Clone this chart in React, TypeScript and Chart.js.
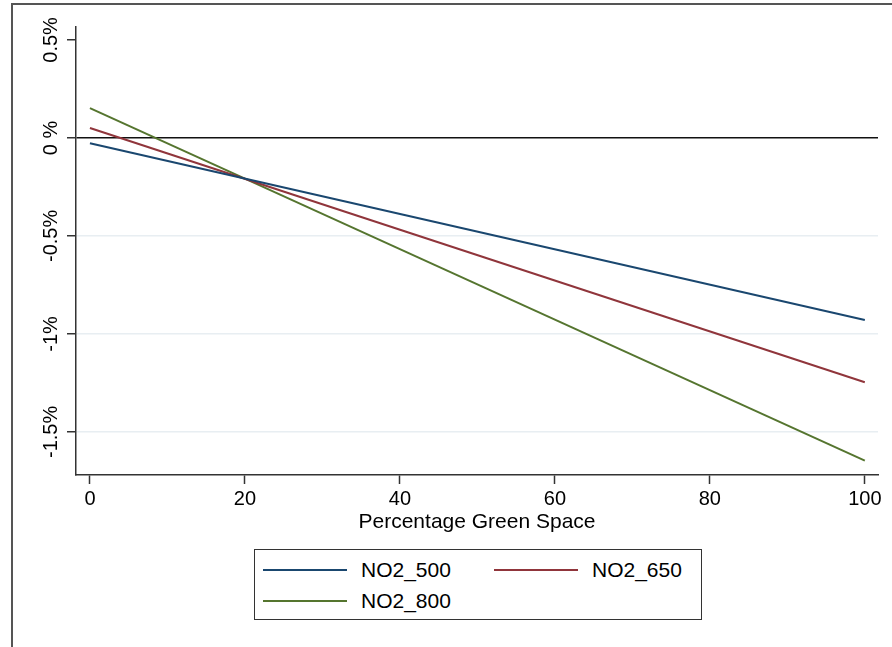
import React, { useEffect, useRef } from "react";
import { Chart, registerables } from "chart.js";

Chart.register(...registerables);

// ---- data ----
const xValues = [0, 100];
const seriesNames = ["NO2_500", "NO2_650", "NO2_800"];
const no2_500 = [-0.027, -0.929];
const no2_650 = [0.051, -1.247];
const no2_800 = [0.152, -1.647];
const seriesColors = ["#1a476f", "#90353b", "#55752f"];

const xTickValues = [0, 20, 40, 60, 80, 100];
const yTickValues = [-1.5, -1, -0.5, 0, 0.5];
const yTickLabels = ["-1.5%", "-1%", "-0.5%", "0 %", "0.5%"];
const xTitle = "Percentage Green Space";

const FONT = "'Liberation Sans', Arial, Helvetica, sans-serif";

export default function App() {
  const canvasRef = useRef<HTMLCanvasElement | null>(null);

  useEffect(() => {
    const canvas = canvasRef.current;
    if (!canvas) return;
    const seriesValues = [no2_500, no2_650, no2_800];
    const chart = new Chart(canvas, {
      type: "line",
      data: {
        datasets: seriesNames.map((name, i) => ({
          label: name,
          data: xValues.map((x, j) => ({ x, y: seriesValues[i][j] })),
          borderColor: seriesColors[i],
          backgroundColor: seriesColors[i],
          borderWidth: 2,
          pointRadius: 0,
          tension: 0,
          fill: false,
        })),
      },
      options: {
        animation: false,
        responsive: false,
        devicePixelRatio: 1,
        layout: { padding: { top: 27, right: 14, left: 0, bottom: 0 } },
        plugins: {
          legend: { display: false },
          tooltip: { enabled: false },
        },
        scales: {
          x: {
            type: "linear",
            min: -1.8,
            max: 101.7,
            afterBuildTicks: (scale: any) => {
              scale.ticks = xTickValues.map((v) => ({ value: v }));
            },
            afterFit: (scale: any) => {
              scale.height = 172;
            },
            border: { color: "#333", width: 1.5 },
            grid: {
              drawOnChartArea: false,
              tickLength: 9,
              tickColor: "#333",
              tickWidth: 1.5,
            },
            ticks: {
              color: "#000",
              font: { family: FONT, size: 20 },
              padding: 3,
              maxRotation: 0,
              autoSkip: false,
              callback: (v: any) => String(v),
            },
            title: {
              display: true,
              text: xTitle,
              color: "#000",
              font: { family: FONT, size: 21 },
              padding: { top: 0, bottom: 112 },
            },
          },
          y: {
            type: "linear",
            min: -1.72,
            max: 0.566,
            afterBuildTicks: (scale: any) => {
              scale.ticks = yTickValues.map((v) => ({ value: v }));
            },
            afterFit: (scale: any) => {
              scale.width = 76;
            },
            border: { color: "#333", width: 1.5 },
            grid: {
              color: (ctx: any) =>
                ctx.tick && ctx.tick.value === 0
                  ? "#111"
                  : ctx.tick && ctx.tick.value === 0.5
                  ? "rgba(0,0,0,0)"
                  : "#e8eef2",
              lineWidth: 1.5,
              tickLength: 9,
              tickColor: "#333",
              tickWidth: 1.5,
            },
            ticks: {
              color: "#000",
              font: { family: FONT, size: 20 },
              minRotation: 90,
              maxRotation: 90,
              crossAlign: "center",
              padding: -11,
              autoSkip: false,
              callback: (v: any) => {
                const idx = yTickValues.indexOf(Number(v));
                return idx >= 0 ? yTickLabels[idx] : "";
              },
            },
          },
        },
      },
    } as any);
    return () => chart.destroy();
  }, []);

  const legendRows = [
    [0, 1],
    [2],
  ];

  return (
    <div
      style={{
        position: "fixed",
        left: 0,
        top: 0,
        width: 892,
        height: 647,
        background: "#fff",
        overflow: "hidden",
      }}
    >
      <canvas
        ref={canvasRef}
        width={892}
        height={647}
        style={{ position: "absolute", left: 0, top: 0, width: 892, height: 647 }}
      />
      <div
        style={{
          position: "absolute",
          left: 11,
          top: 3,
          width: 892,
          height: 660,
          borderTop: "2px solid #555",
          borderLeft: "2px solid #555",
          pointerEvents: "none",
        }}
      />
      <div
        style={{
          position: "absolute",
          left: 254,
          top: 549,
          width: 446,
          height: 69,
          border: "1.5px solid #333",
          background: "#fff",
          fontFamily: FONT,
          fontSize: 21,
          color: "#000",
        }}
      >
        {legendRows.map((row, r) => (
          <div key={r} style={{ position: "absolute", left: 0, top: 7 + r * 31, height: 26, width: "100%" }}>
            {row.map((i, c) => (
              <div
                key={i}
                style={{
                  position: "absolute",
                  left: 8 + c * 231,
                  top: 0,
                  height: 26,
                  display: "flex",
                  alignItems: "center",
                  whiteSpace: "nowrap",
                }}
              >
                <span
                  style={{
                    display: "inline-block",
                    width: 84,
                    height: 0,
                    borderTop: `2px solid ${seriesColors[i]}`,
                    marginRight: 14,
                  }}
                />
                <span style={{ lineHeight: "26px" }}>{seriesNames[i]}</span>
              </div>
            ))}
          </div>
        ))}
      </div>
    </div>
  );
}
